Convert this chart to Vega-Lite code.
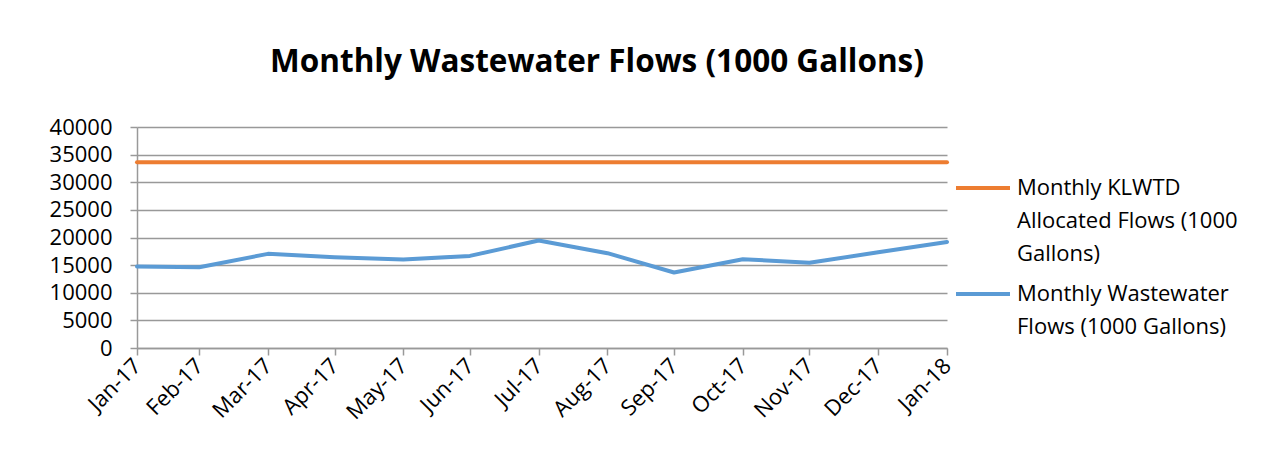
{
  "$schema": "https://vega.github.io/schema/vega-lite/v6.json",
  "width": 810,
  "height": 221,
  "autosize": {"type": "none"},
  "padding": {"left": 137, "top": 127, "right": 316, "bottom": 113},
  "background": "white",
  "title": {
    "text": "Monthly Wastewater Flows (1000 Gallons)",
    "font": "Open Sans",
    "fontSize": 31.5,
    "fontWeight": "bold",
    "color": "#000000",
    "anchor": "middle",
    "dx": 55,
    "offset": 38
  },
  "data": {
    "values": [
      {"date": "2017-01-31", "series": "Monthly KLWTD Allocated Flows (1000 Gallons)", "value": 33600},
      {"date": "2017-02-28", "series": "Monthly KLWTD Allocated Flows (1000 Gallons)", "value": 33600},
      {"date": "2017-03-31", "series": "Monthly KLWTD Allocated Flows (1000 Gallons)", "value": 33600},
      {"date": "2017-04-30", "series": "Monthly KLWTD Allocated Flows (1000 Gallons)", "value": 33600},
      {"date": "2017-05-31", "series": "Monthly KLWTD Allocated Flows (1000 Gallons)", "value": 33600},
      {"date": "2017-06-30", "series": "Monthly KLWTD Allocated Flows (1000 Gallons)", "value": 33600},
      {"date": "2017-07-31", "series": "Monthly KLWTD Allocated Flows (1000 Gallons)", "value": 33600},
      {"date": "2017-08-31", "series": "Monthly KLWTD Allocated Flows (1000 Gallons)", "value": 33600},
      {"date": "2017-09-30", "series": "Monthly KLWTD Allocated Flows (1000 Gallons)", "value": 33600},
      {"date": "2017-10-31", "series": "Monthly KLWTD Allocated Flows (1000 Gallons)", "value": 33600},
      {"date": "2017-11-30", "series": "Monthly KLWTD Allocated Flows (1000 Gallons)", "value": 33600},
      {"date": "2017-12-31", "series": "Monthly KLWTD Allocated Flows (1000 Gallons)", "value": 33600},
      {"date": "2018-01-31", "series": "Monthly KLWTD Allocated Flows (1000 Gallons)", "value": 33600},
      {"date": "2017-01-31", "series": "Monthly Wastewater Flows (1000 Gallons)", "value": 14740},
      {"date": "2017-02-28", "series": "Monthly Wastewater Flows (1000 Gallons)", "value": 14620},
      {"date": "2017-03-31", "series": "Monthly Wastewater Flows (1000 Gallons)", "value": 17040},
      {"date": "2017-04-30", "series": "Monthly Wastewater Flows (1000 Gallons)", "value": 16430},
      {"date": "2017-05-31", "series": "Monthly Wastewater Flows (1000 Gallons)", "value": 16010},
      {"date": "2017-06-30", "series": "Monthly Wastewater Flows (1000 Gallons)", "value": 16670},
      {"date": "2017-07-31", "series": "Monthly Wastewater Flows (1000 Gallons)", "value": 19450},
      {"date": "2017-08-31", "series": "Monthly Wastewater Flows (1000 Gallons)", "value": 17160},
      {"date": "2017-09-30", "series": "Monthly Wastewater Flows (1000 Gallons)", "value": 13660},
      {"date": "2017-10-31", "series": "Monthly Wastewater Flows (1000 Gallons)", "value": 16070},
      {"date": "2017-11-30", "series": "Monthly Wastewater Flows (1000 Gallons)", "value": 15420},
      {"date": "2017-12-31", "series": "Monthly Wastewater Flows (1000 Gallons)", "value": 17320},
      {"date": "2018-01-31", "series": "Monthly Wastewater Flows (1000 Gallons)", "value": 19200}
    ]
  },
  "mark": {"type": "line", "strokeWidth": 4, "strokeCap": "round", "strokeJoin": "round"},
  "encoding": {
    "x": {
      "field": "date",
      "type": "temporal",
      "scale": {
        "type": "utc",
        "nice": false,
        "domain": [
          {"year": 2017, "month": 1, "date": 31, "utc": true},
          {"year": 2018, "month": 1, "date": 31, "utc": true}
        ]
      },
      "axis": {
        "title": null,
        "grid": false,
        "values": [
          {"year": 2017, "month": 1, "date": 31, "utc": true},
          {"year": 2017, "month": 2, "date": 28, "utc": true},
          {"year": 2017, "month": 3, "date": 31, "utc": true},
          {"year": 2017, "month": 4, "date": 30, "utc": true},
          {"year": 2017, "month": 5, "date": 31, "utc": true},
          {"year": 2017, "month": 6, "date": 30, "utc": true},
          {"year": 2017, "month": 7, "date": 31, "utc": true},
          {"year": 2017, "month": 8, "date": 31, "utc": true},
          {"year": 2017, "month": 9, "date": 30, "utc": true},
          {"year": 2017, "month": 10, "date": 31, "utc": true},
          {"year": 2017, "month": 11, "date": 30, "utc": true},
          {"year": 2017, "month": 12, "date": 31, "utc": true},
          {"year": 2018, "month": 1, "date": 31, "utc": true}
        ],
        "labelExpr": "utcFormat(datum.value, '%b-%y')",
        "labelAngle": -45,
        "labelAlign": "right",
        "labelBaseline": "middle",
        "labelPadding": 7,
        "labelFont": "Open Sans",
        "labelFontSize": 22,
        "labelColor": "#000000",
        "labelOverlap": false,
        "labelFlush": false,
        "domainColor": "#999999",
        "domainWidth": 1.5,
        "tickColor": "#999999",
        "tickWidth": 1.5,
        "tickSize": 7
      }
    },
    "y": {
      "field": "value",
      "type": "quantitative",
      "scale": {"domain": [0, 40000], "nice": false},
      "axis": {
        "title": null,
        "values": [0, 5000, 10000, 15000, 20000, 25000, 30000, 35000, 40000],
        "format": "d",
        "labelFont": "Open Sans",
        "labelFontSize": 22,
        "labelColor": "#000000",
        "labelPadding": 18,
        "labelOverlap": false,
        "labelFlush": false,
        "gridColor": "#999999",
        "gridWidth": 1.5,
        "domainColor": "#999999",
        "domainWidth": 1.5,
        "tickColor": "#999999",
        "tickWidth": 1.5,
        "tickSize": 7
      }
    },
    "color": {
      "field": "series",
      "type": "nominal",
      "scale": {
        "domain": ["Monthly KLWTD Allocated Flows (1000 Gallons)", "Monthly Wastewater Flows (1000 Gallons)"],
        "range": ["#ED7D31", "#5B9BD5"]
      },
      "legend": {
        "title": null,
        "orient": "none",
        "legendX": 817,
        "legendY": 32,
        "symbolType": "stroke",
        "symbolStrokeWidth": 4,
        "symbolSize": 2916,
        "labelFont": "Open Sans",
        "labelFontSize": 22,
        "labelColor": "#000000",
        "labelOffset": 5,
        "labelLimit": 400,
        "labelBaseline": "middle",
        "rowPadding": -9,
        "labelExpr": "datum.label == 'Monthly KLWTD Allocated Flows (1000 Gallons)' ? ['Monthly KLWTD', 'Allocated Flows (1000', 'Gallons)'] : ['Monthly Wastewater', 'Flows (1000 Gallons)']",
        "encode": {
          "labels": {"update": {"lineHeight": {"value": 33}}}
        }
      }
    }
  },
  "config": {
    "view": {"stroke": null}
  }
}
